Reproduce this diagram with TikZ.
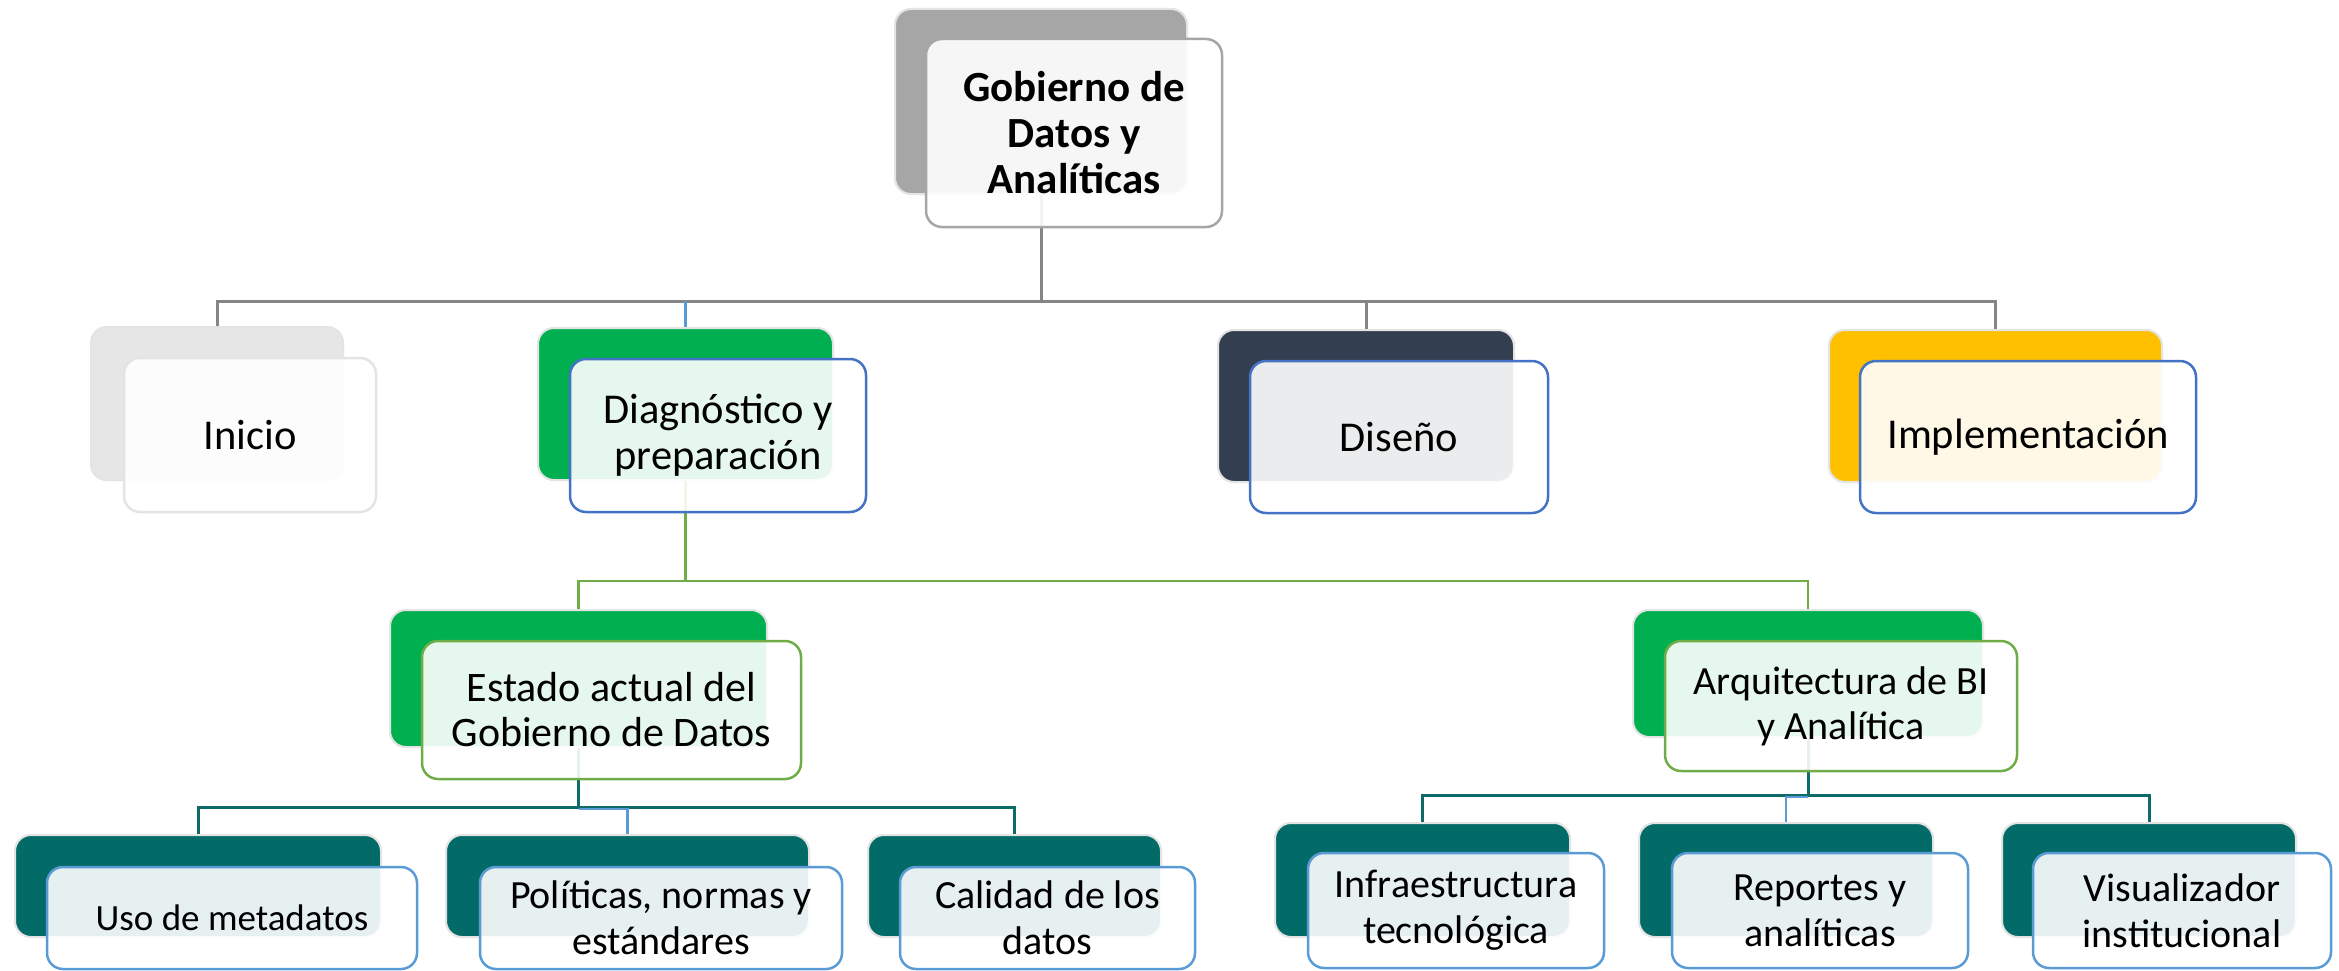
\documentclass[tikz,border=0pt]{standalone}
\usepackage{fontspec}
\setmainfont{Carlito}
\definecolor{cgray}{HTML}{A6A6A6}
\definecolor{clight}{HTML}{E7E6E6}
\definecolor{cgreen}{HTML}{00B050}
\definecolor{cnavy}{HTML}{333F50}
\definecolor{cyellow}{HTML}{FFC000}
\definecolor{cteal}{HTML}{036B67}
\definecolor{cblue}{HTML}{4472C4}
\definecolor{clblue}{HTML}{5B9BD5}
\definecolor{clgreen}{HTML}{70AD47}
\definecolor{cedge}{HTML}{E4E4E4}
\definecolor{cline}{HTML}{858585}
\definecolor{ctealline}{HTML}{0F6B67}
\tikzset{
  back/.style={draw=cedge, line width=2pt, rounded corners=16pt, inner sep=0pt},
  front/.style={fill=white, fill opacity=0.9, text opacity=1, line width=2.5pt, rounded corners=16pt, inner sep=0pt, align=center, text=black},
  graylink/.style={draw=cline, line width=3pt},
  greenlink/.style={draw=clgreen, line width=2.5pt},
  teallink/.style={draw=ctealline, line width=3pt},
  bluelink/.style={draw=clblue, line width=2.5pt},
  fa/.style={font=\fontsize{43}{46}\selectfont\bfseries},
  fb/.style={font=\fontsize{42.5}{46}\selectfont},
  fc/.style={font=\fontsize{42}{45}\selectfont},
  fcs/.style={font=\fontsize{40}{45}\selectfont},
  fd/.style={font=\fontsize{40}{46}\selectfont},
  fds/.style={font=\fontsize{37}{46}\selectfont},
}
\begin{document}
\begin{tikzpicture}[x=1pt,y=-1pt]
\useasboundingbox (0,0) rectangle (2339,971);
% bus coordinates
\coordinate (bus1) at (0,301);
\coordinate (bus2) at (0,581);
\coordinate (bus3) at (0,807);
\coordinate (bus3b) at (0,809);
\coordinate (bus4) at (0,795);
\coordinate (bus4b) at (0,797);
% back boxes (positions)
\path
 node[back, fill=cgray, minimum width=292pt, minimum height=185pt] (topb) at (1041,101.5) {}
 node[back, fill=clight, minimum width=252pt, minimum height=153pt] (inib) at (217,403.5) {}
 node[back, fill=cgreen, minimum width=295pt, minimum height=152pt] (diab) at (685.5,404) {}
 node[back, fill=cnavy, minimum width=296pt, minimum height=152pt] (disb) at (1366,406) {}
 node[back, fill=cyellow, minimum width=333pt, minimum height=152pt] (impb) at (1995.5,406) {}
 node[back, fill=cgreen, minimum width=377pt, minimum height=137pt] (estb) at (578.5,678.5) {}
 node[back, fill=cgreen, minimum width=350pt, minimum height=127pt] (arqb) at (1808,673.5) {}
 node[back, fill=cteal, minimum width=366pt, minimum height=102pt] (usob) at (198,886) {}
 node[back, fill=cteal, minimum width=363pt, minimum height=102pt] (polb) at (627.5,886) {}
 node[back, fill=cteal, minimum width=293pt, minimum height=102pt] (calb) at (1014.5,886) {}
 node[back, fill=cteal, minimum width=295pt, minimum height=114pt] (infb) at (1422.5,880) {}
 node[back, fill=cteal, minimum width=294pt, minimum height=114pt] (repb) at (1786,880) {}
 node[back, fill=cteal, minimum width=294pt, minimum height=114pt] (visb) at (2149,880) {};
% connectors
\draw[graylink] (topb.south) -- (topb.south |- bus1);
\draw[graylink] (inib.north) |- (bus1 -| impb.north) -- (impb.north);
\draw[graylink] (disb.north) -- (disb.north |- bus1);
\draw[bluelink] (diab.north) -- (diab.north |- bus1);
\draw[greenlink] (diab.south) -- (diab.south |- bus2);
\draw[greenlink] (estb.north) |- (bus2 -| arqb.north) -- (arqb.north);
\draw[teallink] (estb.south) -- (estb.south |- bus3);
\draw[teallink] (usob.north) |- (bus3 -| calb.north) -- (calb.north);
\draw[bluelink] (estb.south |- bus3b) -| (polb.north);
\draw[teallink] (arqb.south) -- (arqb.south |- bus4);
\draw[teallink] (infb.north) |- (bus4 -| visb.north) -- (visb.north);
\draw[bluelink] (arqb.south |- bus4b) -| (repb.north);
% redraw back boxes above connectors
\path
 node[back, fill=cgray, minimum width=292pt, minimum height=185pt] at (topb) {}
 node[back, fill=clight, minimum width=252pt, minimum height=153pt] at (inib) {}
 node[back, fill=cgreen, minimum width=295pt, minimum height=152pt] at (diab) {}
 node[back, fill=cnavy, minimum width=296pt, minimum height=152pt] at (disb) {}
 node[back, fill=cyellow, minimum width=333pt, minimum height=152pt] at (impb) {}
 node[back, fill=cgreen, minimum width=377pt, minimum height=137pt] at (estb) {}
 node[back, fill=cgreen, minimum width=350pt, minimum height=127pt] at (arqb) {}
 node[back, fill=cteal, minimum width=366pt, minimum height=102pt] at (usob) {}
 node[back, fill=cteal, minimum width=363pt, minimum height=102pt] at (polb) {}
 node[back, fill=cteal, minimum width=293pt, minimum height=102pt] at (calb) {}
 node[back, fill=cteal, minimum width=295pt, minimum height=114pt] at (infb) {}
 node[back, fill=cteal, minimum width=294pt, minimum height=114pt] at (repb) {}
 node[back, fill=cteal, minimum width=294pt, minimum height=114pt] at (visb) {};
% front boxes with text
\node[front, draw=cgray, fa, minimum width=296pt, minimum height=188pt] (topf) at (1074,133) {Gobierno de\\Datos y\\Analíticas};
\node[front, draw=cedge, fb, minimum width=252pt, minimum height=154pt] (inif) at (250,435) {Inicio};
\node[front, draw=cblue, fb, minimum width=296pt, minimum height=153pt] (diaf) at (718,435.5) {Diagnóstico y\\preparación};
\node[front, draw=cblue, fb, minimum width=298pt, minimum height=152pt] (disf) at (1399,437) {Diseño};
\node[front, draw=cblue, fb, minimum width=336pt, minimum height=152pt] (impf) at (2028,437) {Implementación};
\node[front, draw=clgreen, fc, minimum width=379pt, minimum height=138pt] (estf) at (611.5,710) {Estado actual del\\Gobierno de Datos};
\node[front, draw=clgreen, fcs, minimum width=352pt, minimum height=130pt] (arqf) at (1841,706) {Arquitectura de BI\\y Analítica};
\node[front, draw=clblue, fds, minimum width=370pt, minimum height=102pt] (usof) at (232,918) {Uso de metadatos};
\node[front, draw=clblue, fd, minimum width=362pt, minimum height=102pt] (polf) at (661,918) {Políticas, normas y\\estándares};
\node[front, draw=clblue, fd, minimum width=295pt, minimum height=102pt] (calf) at (1047.5,918) {Calidad de los\\datos};
\node[front, draw=clblue, fd, minimum width=296pt, minimum height=115pt] (inff) at (1456,910.5) {\raisebox{-4pt}{\parbox{290pt}{\centering Infraestructura\\tecnológica}}};
\node[front, draw=clblue, fd, minimum width=296pt, minimum height=115pt] (repf) at (1820,910.5) {\raisebox{-4pt}{\parbox{290pt}{\centering Reportes y\\analíticas}}};
\node[front, draw=clblue, fd, minimum width=298pt, minimum height=115pt] (visf) at (2182,910.5) {\raisebox{-4pt}{\parbox{290pt}{\centering Visualizador\\institucional}}};
\end{tikzpicture}
\end{document}
